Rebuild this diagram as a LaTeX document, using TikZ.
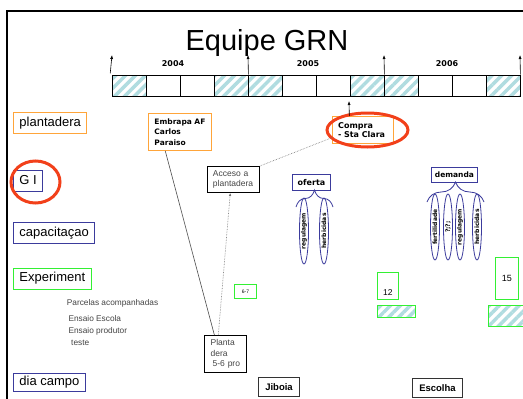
\documentclass[tikz,border=0pt]{standalone}
\usepackage{fontspec}
\setmainfont{Liberation Sans}
\newfontfamily\comicfont{DejaVu Sans}
\usetikzlibrary{arrows.meta,calc,shapes.geometric,decorations.pathreplacing,patterns.meta}
\definecolor{grnOrange}{HTML}{FFA53A}
\definecolor{grnNavy}{HTML}{3B3B9C}
\definecolor{grnGreen}{HTML}{33F033}
\definecolor{grnRed}{HTML}{F2401A}
\definecolor{grnHatch}{HTML}{B0DCE0}
\definecolor{grnGray}{HTML}{444444}

\begin{document}
\begin{tikzpicture}[x=1pt, y=-1pt,
  rowlbl/.style={draw, line width=0.9pt, anchor=west, inner xsep=6pt, inner ysep=0pt, minimum height=21pt, font=\fontsize{13}{15}\selectfont},
  cell/.style={draw, line width=0.8pt, minimum width=34pt, minimum height=21pt, inner sep=0pt},
  hatched/.style={pattern={Lines[angle=45,distance=7pt,line width=3.5pt]}, pattern color=grnHatch},
  comic/.style={font=\comicfont\bfseries\fontsize{8}{9.3}\selectfont},
  notebox/.style={draw, line width=0.9pt, anchor=north west, align=left, inner ysep=0pt},
  smalltxt/.style={anchor=base west, inner sep=0pt, text=grnGray, font=\fontsize{8.3}{10}\selectfont},
  pill/.style={ellipse, draw=grnNavy, line width=0.8pt, rotate=90, minimum width=66pt, minimum height=9pt, inner sep=0pt, font=\comicfont\bfseries\fontsize{6}{7}\selectfont},
  navybrace/.style={draw=grnNavy, line width=0.8pt, decorate, decoration={brace, amplitude=#1}},
  redring/.style={draw=grnRed, line width=3pt},
  tick/.style={-{Latex[length=4pt,width=3pt]}, line width=0.6pt},
  thinline/.style={draw=black!70, line width=0.6pt},
  dotline/.style={draw=black!55, densely dotted, line width=0.6pt}]
  \useasboundingbox (0,0) rectangle (523,399);
  \fill[white] (0,0) rectangle (523,399);
  \clip (0,0) rectangle (523,399);
  \draw[line width=2pt] (7,430) -- (7,10.5) -- (540,10.5);

  % title and time line
  \node[anchor=base, inner sep=0pt, font=\fontsize{29}{32}\selectfont] (title) at (267,50) {Equipe GRN};
  \foreach \i in {1,4,5,8,9,12}
    \node[cell, hatched] (c\i) at ({95+34*\i},85.5) {};
  \foreach \i in {2,3,6,7,10,11}
    \node[cell] (c\i) at ({95+34*\i},85.5) {};
  \coordinate (t1) at (112,55);
  \coordinate (t2) at (248,55);
  \coordinate (t3) at (384,55);
  \coordinate (t4) at (520,55);
  \draw[tick] (c1.north west) -- (t1);
  \draw[tick] (c4.north east) -- (t2);
  \draw[tick] (c8.north east) -- (t3);
  \draw[tick] (c12.north east) -- (t4);
  \node[comic] (y2004) at (173,64) {2004};
  \node[comic] (y2005) at (308,64) {2005};
  \node[comic] (y2006) at (447,64) {2006};

  % rows on the left
  \node[rowlbl, draw=grnOrange] (plant) at (13,123) {plantadera};
  \node[rowlbl, draw=grnNavy] (gi) at (13,180.5) {G I};
  \node[rowlbl, draw=grnNavy] (capac) at (13,233) {capacitaçao};
  \node[rowlbl, draw=grnGreen] (exper) at (13,278.5) {Experiment};
  \node[rowlbl, draw=grnNavy, minimum height=18pt] (dia) at (13,382) {dia campo};
  \draw[redring] (35.5,182) ellipse [x radius=24.5, y radius=21];

  \node[smalltxt] (parc) at (66.7,305) {Parcelas acompanhadas};
  \node[smalltxt] (escola) at (68.3,321) {Ensaio Escola};
  \node[smalltxt] (produtor) at (68.3,333) {Ensaio produtor};
  \node[smalltxt] (teste) at (71,345) {teste};

  % plantadera
  \node[notebox, comic, draw=grnOrange, text width=51pt, inner xsep=6pt, minimum height=37pt, font=\comicfont\bfseries\fontsize{7.5}{10.7}\selectfont] (embrapa) at (148,113) {Embrapa AF\\Carlos\\Paraiso};
  \node[notebox, comic, draw=grnOrange, text width=49.6pt, inner xsep=5.7pt, minimum height=27pt] (compra) at (332,116) {Compra\\- Sta Clara};
  \draw[redring] (367.5,130) ellipse [x radius=40.5, y radius=17];
  \node[notebox, text width=41pt, inner xsep=5.5pt, minimum height=26pt, text=grnGray, font=\fontsize{8.5}{10}\selectfont] (acceso) at (207,166) {Acceso a\\plantadera};
  \node[notebox, line width=1.3pt, text width=30pt, inner xsep=6pt, minimum height=37pt, text=grnGray, font=\fontsize{8.5}{10.5}\selectfont] (planta) at (204,335) {Planta\\dera\\\hspace*{2pt}5-6 pro};
  \coordinate (buy) at (349,101);
  \draw[tick] ($(compra.north west)!0.28!(compra.north east)$) -- (buy);
  \draw[thinline] ($(embrapa.south west)!0.27!(embrapa.south east)$) -- ($(planta.north west)!0.24!(planta.north east)$);
  \draw[dotline, -{Latex[length=3pt,width=2.5pt]}] ($(planta.north west)!0.33!(planta.north east)$) -- ($(acceso.south west)!0.44!(acceso.south east)$);
  \draw[dotline] (acceso.north east) -- ($(compra.west)!0.55!(compra.south west)$);

  % oferta and demanda
  \node[notebox, comic, draw=grnNavy, align=center, minimum width=38pt, minimum height=16pt] (oferta) at (292,174) {oferta};
  \node[notebox, comic, draw=grnNavy, align=center, minimum width=46pt, minimum height=15pt, font=\comicfont\bfseries\fontsize{7.5}{9}\selectfont] (demanda) at (431,167) {demanda};
  \coordinate (ofL) at (296,207);
  \coordinate (ofR) at (333,207);
  \coordinate (deL) at (427,202);
  \coordinate (deR) at (484,202);
  \draw[navybrace=17pt] (ofL) -- (ofR);
  \draw[navybrace=20pt] (deL) -- (deR);
  \node[pill] (ofReg) at (304,231) {regulagem};
  \node[pill] (ofHerb) at (324,231) {herbicidas};
  \node[pill] (deFert) at (435,227) {fertilidade};
  \node[pill] (deQ) at (448,227) {?;?;};
  \node[pill] (deReg) at (460,227) {regulagem};
  \node[pill] (deHerb) at (477,227) {herbicidas};

  % experiments and field days
  \node[notebox, draw=grnGreen, align=center, minimum width=22pt, minimum height=14pt, inner sep=0pt, font=\fontsize{5}{6}\selectfont] (e67) at (234,284) {6-7};
  \node[notebox, draw=grnGreen, align=center, minimum width=21pt, inner sep=0pt, text height=20pt, text depth=1pt, inner ysep=3pt, font=\fontsize{8.5}{10}\selectfont] (e12) at (377,272) {12};
  \node[notebox, draw=grnGreen, align=center, minimum width=23pt, minimum height=42pt, inner sep=0pt, font=\fontsize{9}{10}\selectfont] (e15) at (495,257) {15};
  \node[notebox, draw=grnGreen, hatched, minimum width=38pt, minimum height=12pt, inner sep=0pt] (h12) at (377,305) {};
  \node[notebox, draw=grnGreen, hatched, minimum width=45pt, minimum height=21pt, inner sep=0pt] (h15) at (488,305) {};
  \node[notebox, draw=black!80, line width=1pt, align=center, minimum width=41pt, minimum height=19pt, font=\bfseries\fontsize{9.5}{11}\selectfont] (jiboia) at (258,377) {Jiboia};
  \node[notebox, draw=black!80, line width=1pt, align=center, minimum width=50pt, minimum height=19pt, font=\bfseries\fontsize{9.5}{11}\selectfont] (escolha) at (412,378) {Escolha};
\end{tikzpicture}
\end{document}
